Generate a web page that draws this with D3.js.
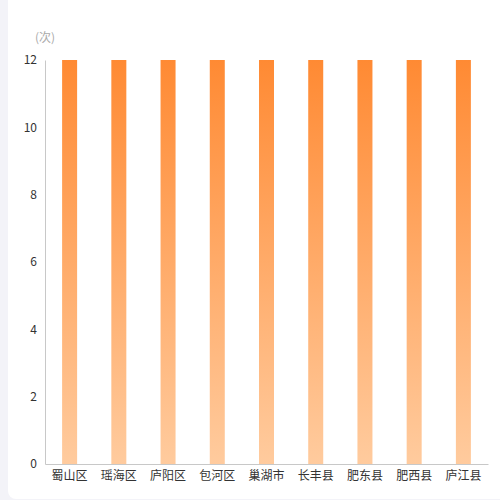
<!DOCTYPE html>
<meta charset="utf-8">
<script src="https://d3js.org/d3.v7.min.js"></script>
<style>
  body { margin: 0; background: #f3f3f8; }
</style>
<svg id="chart" width="500" height="500"></svg>
<script>
  // data
  var districts = ["蜀山区", "瑶海区", "庐阳区", "包河区", "巢湖市", "长丰县", "肥东县", "肥西县", "庐江县"];
  var counts = [12, 12, 12, 12, 12, 12, 12, 12, 12];
  var yTicks = [0, 2, 4, 6, 8, 10, 12];

  var svg = d3.select("#chart");
  var margin = {left: 45, right: 12, top: 60, bottom: 36};
  var width = 500, height = 500;

  // white card
  svg.append("rect")
    .attr("x", 8).attr("y", -10)
    .attr("width", 500).attr("height", 509)
    .attr("rx", 8)
    .attr("fill", "#fff");

  var grad = svg.append("defs").append("linearGradient")
    .attr("id", "barGrad")
    .attr("x1", 0).attr("y1", 0).attr("x2", 0).attr("y2", 1);
  grad.append("stop").attr("offset", "0%").attr("stop-color", "#ff8a33");
  grad.append("stop").attr("offset", "100%").attr("stop-color", "#ffcb9e");

  var x = d3.scaleBand()
    .domain(districts)
    .range([margin.left, width - margin.right]);

  var y = d3.scaleLinear()
    .domain([0, 12])
    .range([height - margin.bottom, margin.top]);

  // axes
  var yAxis = svg.append("g")
    .attr("transform", "translate(" + margin.left + ",0)")
    .call(d3.axisLeft(y).tickValues(yTicks).tickSize(0).tickPadding(8));
  yAxis.select(".domain").attr("stroke", "#c8c8c8");
  yAxis.selectAll("text")
    .attr("fill", "#333")
    .style("font-size", "12px")
    .style("font-family", "Noto Sans CJK SC, sans-serif");

  var xAxis = svg.append("g")
    .attr("transform", "translate(0," + y(0) + ")")
    .call(d3.axisBottom(x).tickSize(0).tickPadding(7));
  xAxis.select(".domain").attr("stroke", "#c8c8c8");
  xAxis.selectAll("text")
    .attr("fill", "#333")
    .style("font-size", "12px")
    .style("font-family", "Noto Sans CJK SC, sans-serif");

  // bars
  var barW = 15;
  svg.append("g")
    .selectAll("rect")
    .data(counts)
    .enter()
    .append("rect")
      .attr("x", function(d, i) { return x(districts[i]) + x.bandwidth() / 2 - barW / 2 })
      .attr("y", function(d) { return y(d) })
      .attr("width", barW)
      .attr("height", function(d) { return y(0) - y(d) })
      .attr("fill", "url(#barGrad)");

  // unit label
  svg.append("text")
    .attr("x", 45).attr("y", 42)
    .attr("text-anchor", "middle")
    .attr("fill", "#aaa")
    .style("font-size", "12px")
    .style("font-family", "Noto Sans CJK SC, sans-serif")
    .text("(次)");
</script>
